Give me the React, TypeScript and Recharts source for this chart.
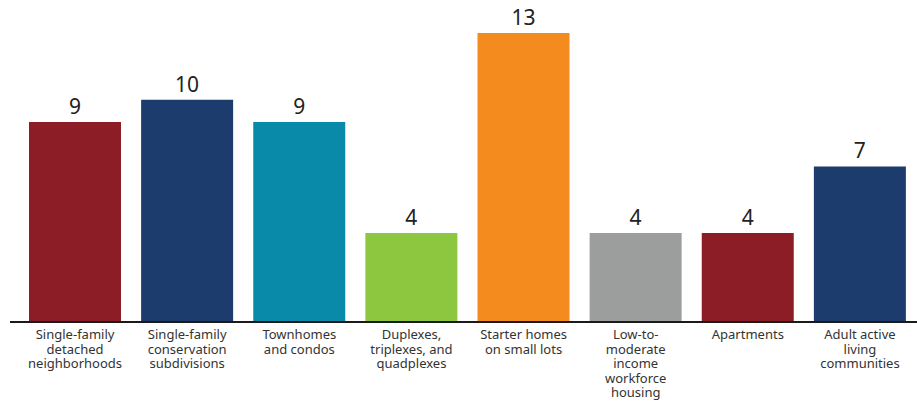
import React from 'react';
import { BarChart, Bar, XAxis, YAxis, Cell, LabelList } from 'recharts';

const categories = [
  'Single-family detached neighborhoods',
  'Single-family conservation subdivisions',
  'Townhomes and condos',
  'Duplexes, triplexes, and quadplexes',
  'Starter homes on small lots',
  'Low-to-moderate income workforce housing',
  'Apartments',
  'Adult active living communities',
];

const tickLines: string[][] = [
  ['Single-family', 'detached', 'neighborhoods'],
  ['Single-family', 'conservation', 'subdivisions'],
  ['Townhomes', 'and condos'],
  ['Duplexes,', 'triplexes, and', 'quadplexes'],
  ['Starter homes', 'on small lots'],
  ['Low-to-', 'moderate', 'income', 'workforce', 'housing'],
  ['Apartments'],
  ['Adult active', 'living', 'communities'],
];

const counts = [9, 10, 9, 4, 13, 4, 4, 7];

const barColors = ['#8c1c26', '#1b3c6c', '#0a8aa9', '#8dc63f', '#f38b1f', '#9b9e9d', '#8c1c26', '#1b3c6c'];

const data = categories.map((name, i) => ({ name, value: counts[i], idx: i }));

const FONT = '"Noto Sans", "Open Sans", sans-serif';

const MultiLineTick = (props: any) => {
  const { x, y, index } = props;
  const lines = tickLines[index] || [];
  return (
    <g transform={`translate(${x},${y})`}>
      {lines.map((line, i) => (
        <text
          key={i}
          x={0}
          y={9 + i * 14.5}
          textAnchor="middle"
          fontSize={13}
          fill="#333333"
          fontFamily={FONT}
        >
          {line}
        </text>
      ))}
    </g>
  );
};

export default function App() {
  return (
    <div style={{ position: 'absolute', left: 0, top: 0, width: 917, height: 404, background: '#fff' }}>
      <BarChart
        width={917}
        height={404}
        data={data}
        margin={{ top: 33, right: 0, bottom: 0, left: 10 }}
        barSize={92}
      >
        <XAxis
          dataKey="name"
          height={82}
          interval={0}
          padding={{ left: 9, right: 1 }}
          axisLine={{ stroke: '#1a1a1a', strokeWidth: 2 }}
          tickLine={false}
          tick={<MultiLineTick />}
        />
        <YAxis hide domain={[0, 13]} />
        <Bar dataKey="value" isAnimationActive={false}>
          {data.map((d, i) => (
            <Cell key={d.name} fill={barColors[i]} />
          ))}
          <LabelList
            dataKey="value"
            position="top"
            offset={8}
            fontSize={21}
            fill="#222222"
            fontFamily={FONT}
          />
        </Bar>
      </BarChart>
    </div>
  );
}
